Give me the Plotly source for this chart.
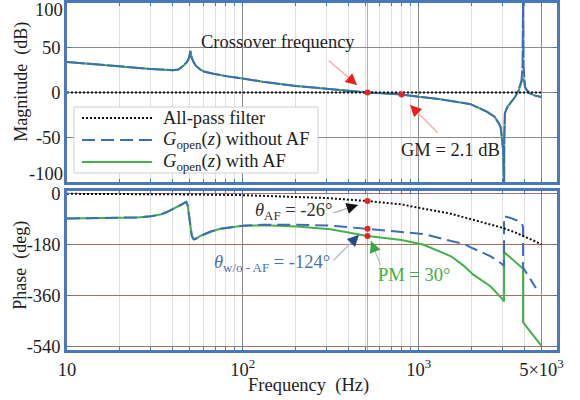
import math
import numpy as np
import plotly.graph_objects as go

# ---------------- data ----------------
# Magnitude (dB)
mag_freq = [10, 14, 22, 30, 34, 40, 43, 46, 48, 49.5, 50.3, 51.2, 52.5, 54, 57, 60, 68, 75, 85,
            100, 130, 200, 315, 400, 512, 650, 800, 1000, 1300, 1660, 1977, 2455, 2700, 2864,
            2930, 3025, 3062, 3070, 3097, 3200, 3310, 3535, 3700, 3775, 3850, 3900, 3927,
            3950, 3990, 4027, 4150, 4303, 4600, 5000]
mag_wo = [34.2, 31.6, 28.6, 26.3, 25.7, 25.0, 25.6, 30.0, 34.0, 39.0, 46.5, 39.0, 34.0, 30.0, 26.0,
          23.5, 21.0, 19.3, 17.5, 15.6, 12.0, 7.4, 3.7, 2.0, 0.0, -1.0, -2.1, -4.7, -7.2, -10.5,
          -13.0, -21.6, -27.0, -34.6, -39.0, -64.0, -110.0, -50.0, -23.0, -16.0, -12.0, -5.0,
          2.0, 8.0, 14.0, 30.0, 110.0, 30.0, 14.0, 6.0, 2.0, -1.0, -3.5, -5.0]
mag_w = [34.2, 31.6, 28.6, 26.3, 25.7, 25.0, 25.6, 30.0, 34.0, 39.0, 46.5, 39.0, 34.0, 30.0, 26.0,
         23.5, 21.0, 19.3, 17.5, 15.6, 12.0, 7.4, 3.7, 2.0, 0.0, -1.0, -2.1, -4.7, -7.2, -10.5,
         -13.0, -21.6, -27.0, -34.6, -39.0, -64.0, -110.0, -50.0, -23.0, -16.0, -12.0, -5.0,
         2.0, 8.0, 12.0, 15.0, 16.0, 15.0, 12.0, 6.0, 2.0, -1.0, -3.5, -5.0]
af_mag_freq = [10, 5000]
af_mag = [0, 0]

# Phase (deg)
ph_wo_freq = [10, 15, 20, 25, 30, 34, 37, 41, 44, 46, 47.7, 48.5, 49.1, 50, 51.3, 52.5, 54, 57.3,
              65.3, 74.5, 85, 100, 131, 204, 315, 512, 800, 1068, 1530, 1815, 1977, 2570, 2980,
              3062, 3062, 3300, 3600, 3850, 3927, 3927, 4645]
ph_wo = [-88, -87, -86, -84, -80, -74, -65, -52, -41, -34, -29, -40, -62, -105, -150, -162, -160,
         -150, -135, -124, -119, -114, -110, -110, -113, -124, -134, -143, -168, -178, -190,
         -222, -249, -256, -80, -85, -94, -104, -118, -262, -334]
ph_w_freq = [10, 15, 20, 25, 30, 34, 37, 41, 44, 46, 47.7, 48.5, 49.1, 50, 51.3, 52.5, 54, 57.3,
             65.3, 74.5, 85, 100, 131, 204, 315, 512, 800, 1068, 1530, 1800, 2047, 2570, 2980,
             3062, 3062, 3927, 3927, 5000]
ph_w = [-88, -87, -86, -84, -80, -74, -65, -52, -41, -34, -29, -40, -62, -105, -150, -162, -160,
        -150, -135, -124, -119, -114, -112, -116, -126, -150, -164, -181, -222, -255, -287,
        -329, -372, -382, -207, -266, -456, -539]
af_ph_freq = [10, 20, 50, 100, 200, 300, 512, 800, 1000, 1500, 2000, 2500, 3000, 3500, 4000, 4500, 5000]
af_ph = [-0.5, -1, -2.6, -5.2, -10.4, -15.5, -26, -38, -50, -70, -91, -107, -121, -136, -151, -166, -180]

# Marked points
f_cross = 512
f_gm = 800
mark_mag_freq = [f_cross, f_gm]
mark_mag = [0, -2.1]
mark_ph_freq = [f_cross, f_cross, f_cross]
mark_ph = [-26, -124, -150]

# Ticks
x_ticks = [10, 100, 1000, 5000]
x_ticktext = ["10", "10<sup>2</sup>", "10<sup>3</sup>", "5×10<sup>3</sup>"]
x_minor = [20, 30, 40, 50, 60, 70, 80, 90, 200, 300, 400, 500, 600, 700, 800, 900, 2000, 3000, 4000]
mag_ticks = [-100, -50, 0, 50, 100]
mag_ticktext = ["", "-50", "0", "50", ""]
ph_ticks = [0, -180, -360, -540]
ph_ticktext = ["0", "-180", "-360", "-540"]

# Legend entries
legend_names = ["All-pass filter",
                "<i>G</i><sub>open</sub>(<i>z</i>) without AF",
                "<i>G</i><sub>open</sub>(<i>z</i>) with AF"]

# ---------------- style ----------------
FONT = "Liberation Serif"
FS = 18.5
BLUE = "#3d6db5"
GREEN = "#45b14a"
FRAME = "#4a78bd"
ORANGE = "#f0a06e"
RED = "#ee2020"
TXT = "#1e1e1e"
AF_LINE = dict(color="#111111", width=2, dash="2px,2px")
WO_LINE = dict(color=BLUE, width=2, dash="13px,6px")
W_LINE = dict(color=GREEN, width=2)

fig = go.Figure()

# top: magnitude
fig.add_trace(go.Scatter(x=mag_freq, y=mag_w, mode="lines", line=W_LINE,
                         xaxis="x", yaxis="y", hoverinfo="skip"))
fig.add_trace(go.Scatter(x=mag_freq, y=mag_wo, mode="lines", line=dict(color=BLUE, width=2, dash="18px,2px"),
                         xaxis="x", yaxis="y", hoverinfo="skip"))
fig.add_trace(go.Scatter(x=af_mag_freq, y=af_mag, mode="lines", line=AF_LINE,
                         xaxis="x", yaxis="y", hoverinfo="skip"))
fig.add_trace(go.Scatter(x=mark_mag_freq, y=mark_mag, mode="markers", marker=dict(color=RED, size=6),
                         xaxis="x", yaxis="y", hoverinfo="skip"))

# bottom: phase
fig.add_trace(go.Scatter(x=ph_w_freq, y=ph_w, mode="lines", line=W_LINE,
                         xaxis="x2", yaxis="y2", name=legend_names[2], hoverinfo="skip"))
fig.add_trace(go.Scatter(x=ph_wo_freq, y=ph_wo, mode="lines", line=WO_LINE,
                         xaxis="x2", yaxis="y2", name=legend_names[1], hoverinfo="skip"))
fig.add_trace(go.Scatter(x=af_ph_freq, y=af_ph, mode="lines", line=AF_LINE,
                         xaxis="x2", yaxis="y2", name=legend_names[0], hoverinfo="skip"))
fig.add_trace(go.Scatter(x=mark_ph_freq, y=mark_ph, mode="markers", marker=dict(color=RED, size=6),
                         xaxis="x2", yaxis="y2", hoverinfo="skip"))

# vertical orange lines and -180 line
for f in (f_cross, f_gm):
    fig.add_shape(type="line", xref="x", yref="y domain", x0=f, x1=f, y0=0, y1=1,
                  line=dict(color=ORANGE, width=1), layer="below")
    fig.add_shape(type="line", xref="x2", yref="y2 domain", x0=f, x1=f, y0=0, y1=1,
                  line=dict(color=ORANGE, width=1), layer="below")
fig.add_shape(type="line", xref="x2 domain", yref="y2", x0=0, x1=1, y0=-180, y1=-180,
              line=dict(color="#d9654c", width=1), layer="below")

tickfont = dict(family=FONT, size=FS, color=TXT)
xcommon = dict(type="log", range=[1, math.log10(6125)], showline=True, mirror="ticks",
               linecolor=FRAME, linewidth=2.5, ticks="inside", ticklen=4, tickcolor=FRAME,
               tickvals=x_ticks, ticktext=x_ticktext, showgrid=True, gridcolor="#8c8c8c", gridwidth=1,
               minor=dict(tickvals=x_minor, showgrid=True, gridcolor="#e0e0e0", gridwidth=1,
                          ticks="inside", ticklen=3, tickcolor=FRAME),
               zeroline=False, tickfont=tickfont, automargin=False)

fig.update_layout(
    width=580, height=400, autosize=False,
    margin=dict(l=67, r=23, t=3, b=50, autoexpand=False),
    paper_bgcolor="white", plot_bgcolor="white",
    font=dict(family=FONT, size=FS, color=TXT),
    showlegend=False,
    xaxis=dict(**xcommon, anchor="y", showticklabels=False),
    xaxis2=dict(**xcommon, anchor="y2", matches="x", showticklabels=True, ticklabelstandoff=1),
    yaxis=dict(domain=[0.484, 1], range=[-100, 100], tickvals=mag_ticks, ticktext=mag_ticktext,
               showline=True, mirror="ticks", linecolor=FRAME, linewidth=2.5, ticks="inside",
               ticklen=4, tickcolor=FRAME, showgrid=True, gridcolor="#8c8c8c", zeroline=False,
               tickfont=tickfont, automargin=False),
    yaxis2=dict(domain=[0, 0.457], range=[-554, 8], tickvals=ph_ticks, ticktext=ph_ticktext,
                showline=True, mirror="ticks", linecolor=FRAME, linewidth=2.5, ticks="inside",
                ticklen=4, tickcolor=FRAME, showgrid=True, gridcolor="#a87064", zeroline=False,
                tickfont=tickfont, automargin=False),
)

# ---- legend box (drawn by hand to match the reference's compact layout) ----
PW, PH = 490.0, 347.0  # plot-area size in px


def px2paper(xp, yp):
    return (xp - 67) / PW, (350 - yp) / PH


bx0, by0 = px2paper(74, 107)
bx1, by1 = px2paper(318, 173)
fig.add_shape(type="rect", xref="paper", yref="paper", x0=bx0, y0=by1, x1=bx1, y1=by0,
              fillcolor="white", line=dict(color="#cfcfcf", width=1), layer="above")
ann = []
for i, (lstyle, name) in enumerate(zip([AF_LINE, WO_LINE, W_LINE], legend_names)):
    yp = 118 + i * 22
    lx0, ly = px2paper(82, yp)
    lx1, _ = px2paper(152, yp)
    fig.add_shape(type="line", xref="paper", yref="paper", x0=lx0, x1=lx1, y0=ly, y1=ly,
                  line=lstyle, layer="above")
    tx, _ = px2paper(161, yp)
    ann.append(dict(text=name, x=tx, y=ly, xref="paper", yref="paper", xanchor="left",
                    yanchor="middle", showarrow=False, font=dict(family=FONT, size=FS, color=TXT)))

lbl = dict(family=FONT, size=FS, color=TXT)
ttl = dict(family=FONT, size=18, color=TXT)
# axis titles
ann.append(dict(text="Magnitude\u00a0 (dB)", x=-0.0945, y=0.772, xref="paper", yref="paper",
                xanchor="center", yanchor="middle", textangle=-90, showarrow=False, font=ttl))
ann.append(dict(text="Phase\u00a0 (deg)", x=-0.0945, y=0.245, xref="paper", yref="paper",
                xanchor="center", yanchor="middle", textangle=-90, showarrow=False, font=ttl))
ann.append(dict(text="Frequency\u00a0 (Hz)", x=0.492, y=-0.101, xref="paper", yref="paper",
                xanchor="center", yanchor="middle", showarrow=False, font=lbl))
# edge tick labels of magnitude axis
ann.append(dict(text="100", x=-0.004, y=0.981, xref="paper", yref="paper", xanchor="right",
                yanchor="middle", showarrow=False, font=lbl))
ann.append(dict(text="-100", x=-0.004, y=0.5086, xref="paper", yref="paper", xanchor="right",
                yanchor="middle", showarrow=False, font=lbl))

# text labels
ann.append(dict(text="Crossover frequency", x=2.200, y=56.4, xref="x", yref="y", showarrow=False,
                xanchor="center", yanchor="middle", font=lbl))
ann.append(dict(text="GM = 2.1 dB", x=3.184, y=-64.2, xref="x", yref="y", showarrow=False,
                xanchor="center", yanchor="middle", font=lbl))
ann.append(dict(text="<i>θ</i><sub>AF</sub> = -26°", x=2.291, y=-64.8, xref="x2", yref="y2",
                xanchor="center", yanchor="middle", showarrow=False,
                font=dict(family=FONT, size=FS, color="#333333")))
ann.append(dict(text="<i>θ</i><sub>w/o - AF</sub> = -124°", x=2.166, y=-249, xref="x2", yref="y2",
                xanchor="center", yanchor="middle", showarrow=False,
                font=dict(family=FONT, size=FS, color="#4a72b0")))
ann.append(dict(text="PM = 30°", x=2.974, y=-288, xref="x2", yref="y2", showarrow=False,
                xanchor="center", yanchor="middle", font=dict(family=FONT, size=FS, color="#3fae45")))


def arrow(xref, yref, xl, yv, ax, ay, lcol, hcol):
    tiny = dict(size=1, color="rgba(0,0,0,0)")
    ann.append(dict(text=" ", x=xl, y=yv, xref=xref, yref=yref, ax=ax, ay=ay, showarrow=True,
                    arrowhead=0, arrowwidth=1.3, arrowcolor=lcol, font=tiny, borderpad=0))
    L = math.hypot(ax, ay)
    ann.append(dict(text=" ", x=xl, y=yv, xref=xref, yref=yref, ax=ax / L * 11, ay=ay / L * 11,
                    showarrow=True, arrowhead=2, arrowsize=0.95, arrowwidth=2.4, arrowcolor=hcol,
                    font=tiny, borderpad=0))


arrow("x", "y", 2.650, 8.4, -29, -25, "#f6a7a7", "#e82020")
arrow("x", "y", 2.951, -14.0, 28, 28, "#f6a7a7", "#e82020")
arrow("x2", "y2", 2.655, -40, -25, 8, "#b0b0b0", "#111111")
arrow("x2", "y2", 2.661, -146, -26, 26, "#a9bad2", "#274b86")
arrow("x2", "y2", 2.729, -167.6, 10, 25, "#b4ccb4", "#3aa844")

fig.update_layout(annotations=ann)
fig.write_html("out.html", config={"displayModeBar": False},
               post_script="document.body.style.margin='0';document.body.style.padding='0';"
                           "document.body.style.overflow='hidden';")
